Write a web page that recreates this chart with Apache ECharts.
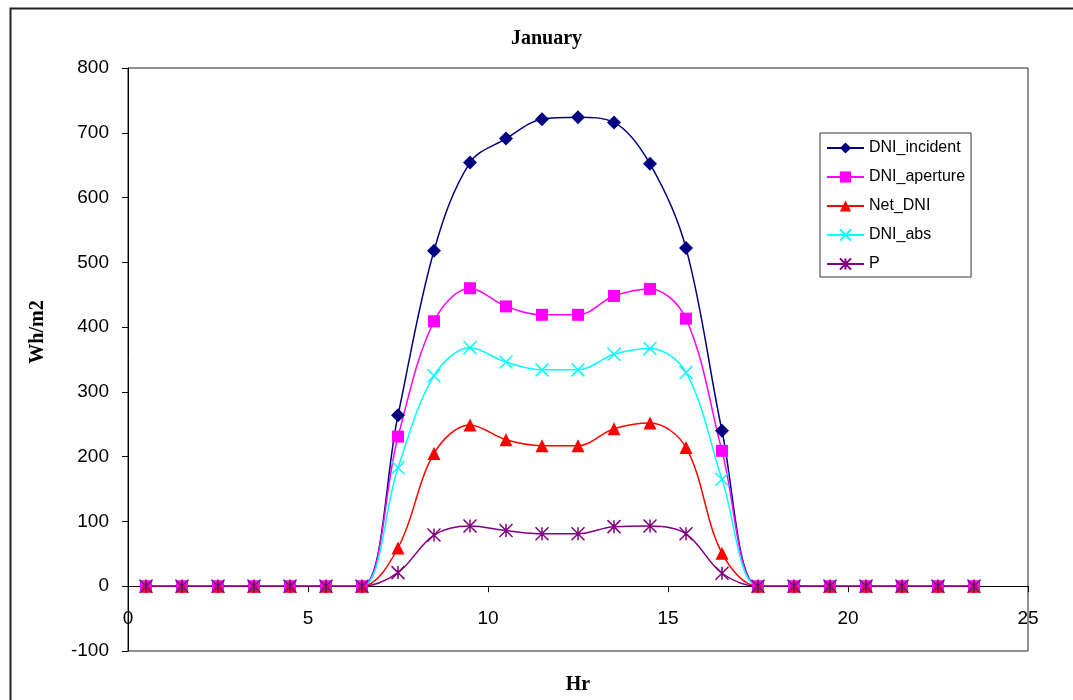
<!DOCTYPE html>
<html>
<head>
<meta charset="utf-8">
<script src="https://cdn.jsdelivr.net/npm/echarts@6/dist/echarts.min.js"></script>
<style>
html,body{margin:0;padding:0;background:#fff;}
#main{width:1073px;height:700px;}
</style>
</head>
<body>
<div id="main"></div>
<script>
const hours = [0.5,1.5,2.5,3.5,4.5,5.5,6.5,7.5,8.5,9.5,10.5,11.5,12.5,13.5,14.5,15.5,16.5,17.5,18.5,19.5,20.5,21.5,22.5,23.5];
const dniIncident = [0,0,0,0,0,0,0,264,518,654,691,721,724,716,652,522,240,0,0,0,0,0,0,0];
const dniAperture = [0,0,0,0,0,0,0,231,409,460,432,419,419,448,459,413,209,0,0,0,0,0,0,0];
const netDni      = [0,0,0,0,0,0,0,59,205,249,226,217,217,243,252,214,51,0,0,0,0,0,0,0];
const dniAbs      = [0,0,0,0,0,0,0,183,325,368,346,334,334,358,367,330,165,0,0,0,0,0,0,0];
const pOut        = [0,0,0,0,0,0,0,21,79,93,86,81,81,92,93,81,20,0,0,0,0,0,0,0];
const seriesNames = ['DNI_incident','DNI_aperture','Net_DNI','DNI_abs','P'];
const xTicks = {min:0, max:25, interval:5};
const yTicks = {min:-100, max:800, interval:100};

function pairs(vals){ return hours.map((h,i)=>[h, vals[i]]); }

const chart = echarts.init(document.getElementById('main'), null, {renderer:'canvas'});
const labelFont = {fontFamily:'Liberation Sans, Arial, sans-serif', fontSize:19, color:'#000'};
const XPATH = 'path://M0,0L10,10M10,0L0,10';
const STAR = 'path://M0,0L10,10M10,0L0,10M5,0L5,10';

function mk(name, vals, color, symbol, size, extra){
  return Object.assign({
    name: name, type:'line', data: pairs(vals), smooth: 0.35,
    symbol: symbol, symbolSize: size, showSymbol: true,
    color: color,
    lineStyle: {color: color, width: 1.5},
    itemStyle: {color: color}
  }, extra || {});
}

chart.setOption({
  animation: false,
  backgroundColor: '#fff',
  title: {
    text: 'January', left: 511, top: 29, padding: 0,
    textStyle: {fontFamily:'Liberation Serif, Times New Roman, serif', fontWeight:'bold', fontSize:20, color:'#000'}
  },
  grid: {left:128, right:45, top:68, bottom:49, show:true, borderColor:'#222', borderWidth:1, backgroundColor:'transparent',
         containLabel:false, outerBoundsMode:'none'},
  legend: {
    orient:'vertical', left:820, top:133, data: seriesNames,
    itemWidth:37, itemHeight:14, itemGap:13, padding:[7,6,5,6],
    borderColor:'#333', borderWidth:1, backgroundColor:'#fff',
    textStyle:{fontFamily:'Liberation Sans, Arial, sans-serif', fontSize:16, color:'#000'}
  },
  xAxis: {
    type:'value', min:xTicks.min, max:xTicks.max, interval:xTicks.interval,
    name:'Hr', nameLocation:'middle', nameGap:24,
    nameTextStyle:{fontFamily:'Liberation Serif, Times New Roman, serif', fontWeight:'bold', fontSize:20, color:'#000'},
    axisLine:{show:true, onZero:true, lineStyle:{color:'#000', width:1}},
    axisTick:{show:true, length:6, lineStyle:{color:'#000'}},
    axisLabel:Object.assign({margin:-42}, labelFont),
    splitLine:{show:false}
  },
  yAxis: {
    type:'value', min:yTicks.min, max:yTicks.max, interval:yTicks.interval,
    axisLine:{show:true, lineStyle:{color:'#000', width:1}},
    axisTick:{show:true, length:6, lineStyle:{color:'#000'}},
    axisLabel:Object.assign({margin:19}, labelFont),
    splitLine:{show:false}
  },
  graphic: [
    {type:'rect', left:8, top:6, z:-10, silent:true,
     shape:{width:1100, height:720}, style:{fill:'none', stroke:'#222', lineWidth:2}},
    {type:'text', x:38, y:332, rotation:Math.PI/2, silent:true,
     style:{text:'Wh/m2', font:'bold 20px "Liberation Serif", "Times New Roman", serif', fill:'#000', textAlign:'center', textVerticalAlign:'middle'}}
  ],
  series: [
    mk('DNI_incident', dniIncident, '#000080', 'diamond', 14),
    mk('DNI_aperture', dniAperture, '#FF00FF', 'rect', 12),
    mk('Net_DNI', netDni, '#FF0000', 'triangle', 13),
    mk('DNI_abs', dniAbs, '#00FFFF', XPATH, 13, {itemStyle:{color:'#00FFFF', borderColor:'#00FFFF', borderWidth:1.5}}),
    mk('P', pOut, '#800080', STAR, 13, {itemStyle:{color:'#800080', borderColor:'#800080', borderWidth:1.5}})
  ]
});
</script>
</body>
</html>
